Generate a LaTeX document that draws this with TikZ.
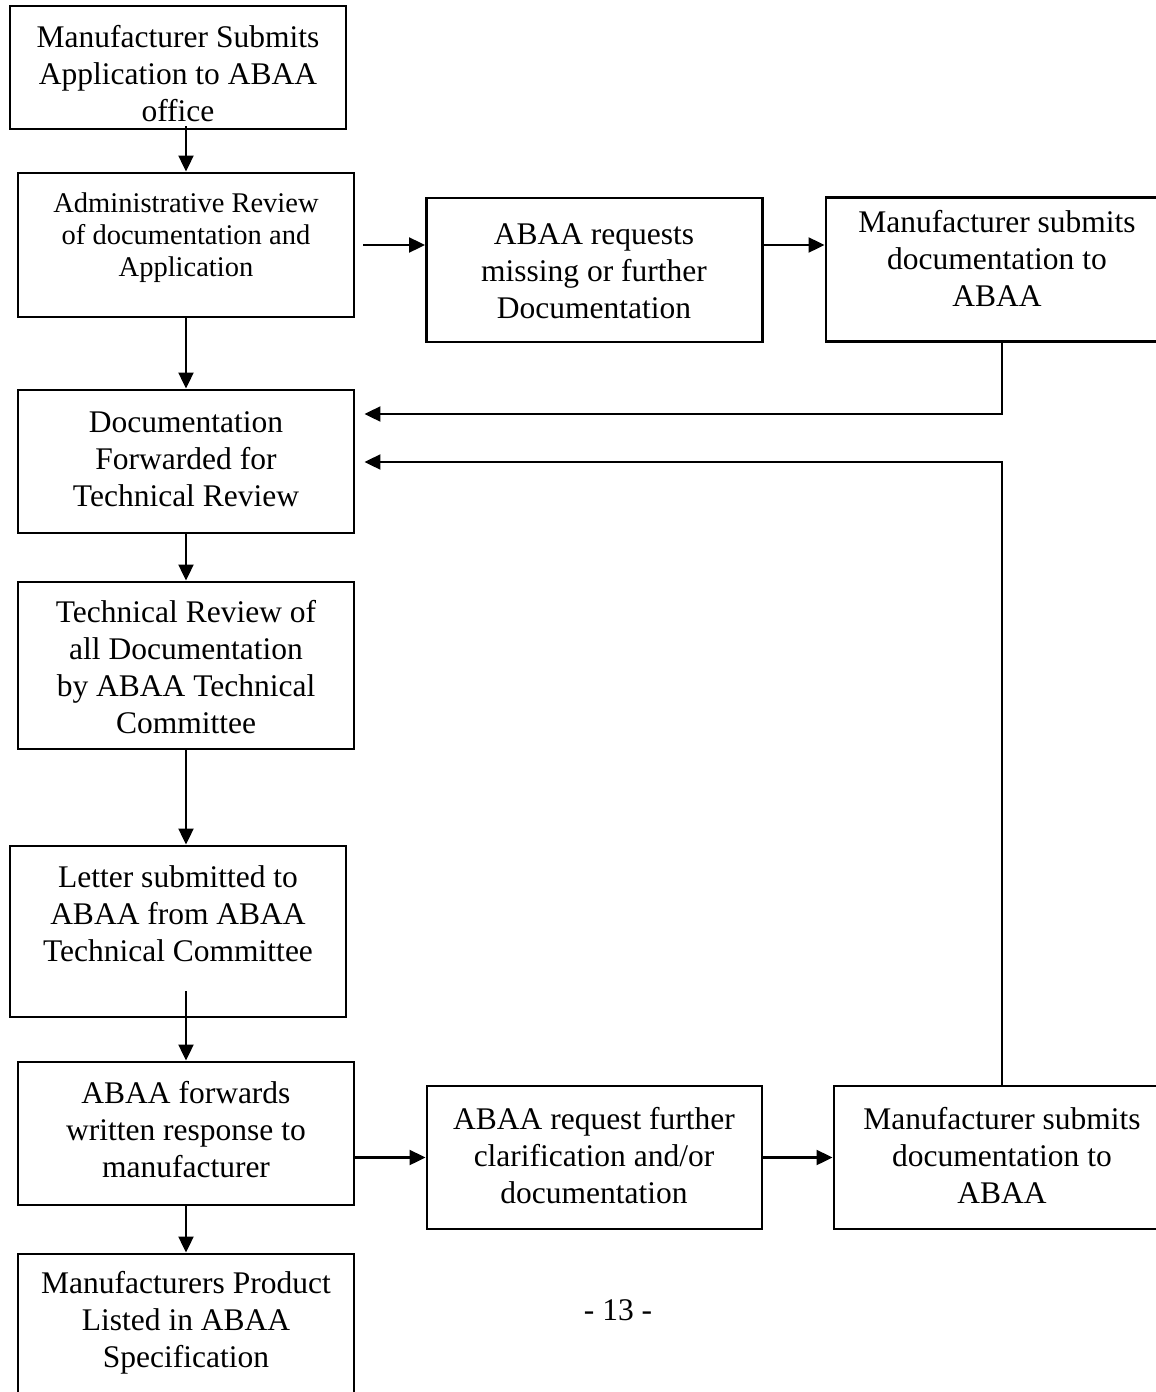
\documentclass[tikz,border=0pt]{standalone}
\usepackage{fontspec}
\setmainfont{Liberation Serif}
\usetikzlibrary{arrows.meta,calc}
\begin{document}
\begin{tikzpicture}[x=1pt,y=-1pt,
  box/.style={draw=black,line width=2.9pt,rectangle,minimum width=336pt,minimum height=144pt,inner sep=0pt},
  txt/.style={align=center,inner sep=0pt,font=\fontsize{31.5}{37}\selectfont},
  smalltxt/.style={align=center,inner sep=0pt,font=\fontsize{28.5}{32}\selectfont},
  arr/.style={line width=2.1pt,-{Triangle[length=16pt,width=15pt]}},
  ln/.style={line width=2pt}]
\useasboundingbox (0,0) rectangle (1156,1392);
\clip (0,0) rectangle (1156,1392);
% boxes
\node[box,minimum height=123pt] (b1) at (178,67.5) {};
\node[box] (b2) at (186,245) {};
\node[box] (b3) at (594.5,270) {};
\node[box,minimum width=342pt] (b4) at (997,269.5) {};
\node[box,minimum height=143pt] (b5) at (186,461.5) {};
\node[box,minimum height=167pt] (b6) at (186,665.5) {};
\node[box,minimum height=171pt] (b7) at (178,931.5) {};
\node[box,minimum height=143pt] (b8) at (186,1133.5) {};
\node[box,minimum width=335pt,minimum height=143pt] (b9) at (594.5,1157.5) {};
\node[box,minimum height=143pt] (b10) at (1002,1157.5) {};
\node[box,minimum height=166pt] (b11) at (186,1337) {};
% texts
\node[txt] (t1) at (178,74) {Manufacturer Submits\\Application to ABAA\\office};
\node[smalltxt] (t2) at (186,238) {Administrative Review\\of documentation and\\Application};
\node[txt] (t3) at (594,271) {ABAA requests\\missing or further\\Documentation};
\node[txt] (t4) at (997,258) {Manufacturer submits\\documentation to\\ABAA};
\node[txt] (t5) at (186,459) {Documentation\\Forwarded for\\Technical Review};
\node[txt] (t6) at (186,667) {Technical Review of\\all Documentation\\by ABAA Technical\\Committee};
\node[txt] (t7) at (178,914) {Letter submitted to\\ABAA from ABAA\\Technical Committee};
\node[txt] (t8) at (186,1130) {ABAA forwards\\written response to\\manufacturer};
\node[txt] (t9) at (594,1156) {ABAA request further\\clarification and/or\\documentation};
\node[txt] (t10) at (1002,1155) {Manufacturer submits\\documentation to\\ABAA};
\node[txt] (t11) at (186,1323) {Manufacturers Product\\Listed in ABAA\\Specification};
\node[txt] (pg) at (618,1310) {- 13 -};
% helper coordinates
\coordinate (r1) at (0,245);
\coordinate (r2) at (0,414);
\coordinate (r3) at (0,462);
\coordinate (c1) at (1002,0);
% connectors
\draw[arr] ([yshift=4pt]b2.north |- b1.south) -- (b2.north);
\draw[arr] ([xshift=8pt]b2.east |- r1) -- (b3.west |- r1);
\draw[arr] (b3.east |- r1) -- (b4.west |- r1);
\draw[arr] (b2.south) -- (b5.north);
\draw[arr] (c1 |- b4.south) |- ([xshift=9pt]b5.east |- r2);
\draw[arr] (c1 |- b10.north) |- ([xshift=9pt]b5.east |- r3);
\draw[arr] (b5.south) -- (b6.north);
\draw[arr] (b6.south) -- (b6.south |- b7.north);
\draw[arr] ([yshift=27pt]b8.north |- b7.south) -- (b8.north);
\draw[arr] (b8.east |- b9.west) -- (b9.west);
\draw[arr] (b9.east) -- (b10.west);
\draw[arr] (b8.south) -- (b11.north);
\end{tikzpicture}
\end{document}
